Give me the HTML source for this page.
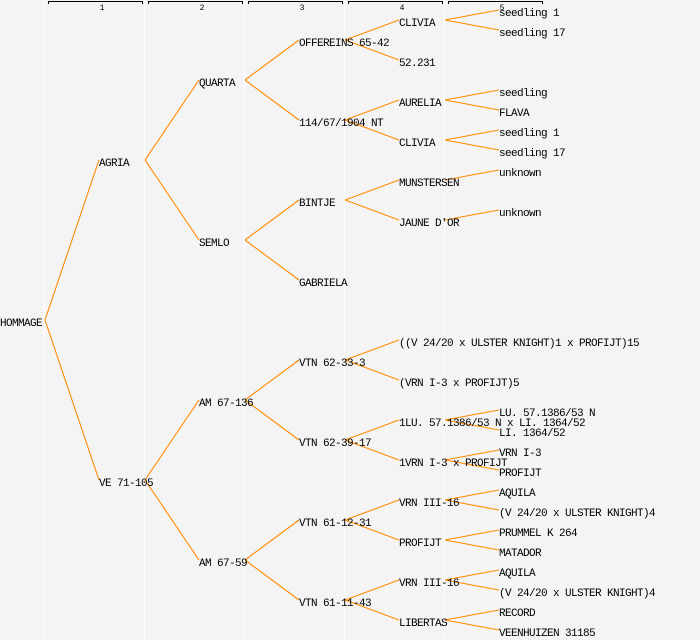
<!DOCTYPE html>
<html><head><meta charset="utf-8"><style>
html,body{margin:0;padding:0;background:#f4f4f4;}
svg{display:block;}
text{font-family:"Liberation Mono",monospace;font-size:11px;letter-spacing:-0.6px;fill:#000;}
text.h{font-size:8px;letter-spacing:0;}
</style></head><body>
<svg width="700" height="640" viewBox="0 0 700 640" xmlns="http://www.w3.org/2000/svg">
<rect width="700" height="640" fill="#f4f4f4"/>
<g stroke="#fff" stroke-width="1">
<line x1="44.5" y1="0" x2="44.5" y2="640"/><line x1="144.5" y1="0" x2="144.5" y2="640"/><line x1="244.5" y1="0" x2="244.5" y2="640"/><line x1="344.5" y1="0" x2="344.5" y2="640"/><line x1="444.5" y1="0" x2="444.5" y2="640"/>
</g>
<g stroke="#000" fill="none" stroke-width="1">
<path d="M48.5 4V1.5H142.5V4"/><path d="M148.5 4V1.5H242.5V4"/><path d="M248.5 4V1.5H342.5V4"/><path d="M348.5 4V1.5H442.5V4"/><path d="M448.5 4V1.5H542.5V4"/>
</g>
<g>
<text class="h" x="102" y="10" text-anchor="middle">1</text><text class="h" x="202" y="10" text-anchor="middle">2</text><text class="h" x="302" y="10" text-anchor="middle">3</text><text class="h" x="402" y="10" text-anchor="middle">4</text><text class="h" x="502" y="10" text-anchor="middle">5</text>
</g>
<g stroke="#ff8a00" stroke-width="1.1" fill="none">
<path d="M45 320L99 160M45 320L99 480"/>
<path d="M145 160L199 80M145 160L199 240M145 480L199 400M145 480L199 560"/>
<path d="M245 80L299 40M245 80L299 120M245 240L299 200M245 240L299 280M245 400L299 360M245 400L299 440M245 560L299 520M245 560L299 600"/>
<path d="M345 40L399 20M345 40L399 60M345 120L399 100M345 120L399 140M345 200L399 180M345 200L399 220M345 360L399 340M345 360L399 380M345 440L399 420M345 440L399 460M345 520L399 500M345 520L399 540M345 600L399 580M345 600L399 620"/>
<path d="M445 20L499 10M445 20L499 30M445 100L499 90M445 100L499 110M445 140L499 130M445 140L499 150M445 180L499 170M445 220L499 210M445 420L499 410M445 420L499 430M445 460L499 450M445 460L499 470M445 500L499 490M445 500L499 510M445 540L499 530M445 540L499 550M445 580L499 570M445 580L499 590M445 620L499 610M445 620L499 630"/>
</g>
<g>
<text x="0" y="326">HOMMAGE</text>
<text x="99" y="166">AGRIA</text>
<text x="99" y="486">VE 71-105</text>
<text x="199" y="86">QUARTA</text>
<text x="199" y="246">SEMLO</text>
<text x="199" y="406">AM 67-136</text>
<text x="199" y="566">AM 67-59</text>
<text x="299" y="46">OFFEREINS 65-42</text>
<text x="299" y="126">114/67/1904 NT</text>
<text x="299" y="206">BINTJE</text>
<text x="299" y="286">GABRIELA</text>
<text x="299" y="366">VTN 62-33-3</text>
<text x="299" y="446">VTN 62-39-17</text>
<text x="299" y="526">VTN 61-12-31</text>
<text x="299" y="606">VTN 61-11-43</text>
<text x="399" y="26">CLIVIA</text>
<text x="399" y="66">52.231</text>
<text x="399" y="106">AURELIA</text>
<text x="399" y="146">CLIVIA</text>
<text x="399" y="186">MUNSTERSEN</text>
<text x="399" y="226">JAUNE D'OR</text>
<text x="399" y="346">((V 24/20 x ULSTER KNIGHT)1 x PROFIJT)15</text>
<text x="399" y="386">(VRN I-3 x PROFIJT)5</text>
<text x="399" y="426">1LU. 57.1386/53 N x LI. 1364/52</text>
<text x="399" y="466">1VRN I-3 x PROFIJT</text>
<text x="399" y="506">VRN III-16</text>
<text x="399" y="546">PROFIJT</text>
<text x="399" y="586">VRN III-16</text>
<text x="399" y="626">LIBERTAS</text>
<text x="499" y="16">seedling 1</text>
<text x="499" y="36">seedling 17</text>
<text x="499" y="96">seedling</text>
<text x="499" y="116">FLAVA</text>
<text x="499" y="136">seedling 1</text>
<text x="499" y="156">seedling 17</text>
<text x="499" y="176">unknown</text>
<text x="499" y="216">unknown</text>
<text x="499" y="416">LU. 57.1386/53 N</text>
<text x="499" y="436">LI. 1364/52</text>
<text x="499" y="456">VRN I-3</text>
<text x="499" y="476">PROFIJT</text>
<text x="499" y="496">AQUILA</text>
<text x="499" y="516">(V 24/20 x ULSTER KNIGHT)4</text>
<text x="499" y="536">PRUMMEL K 264</text>
<text x="499" y="556">MATADOR</text>
<text x="499" y="576">AQUILA</text>
<text x="499" y="596">(V 24/20 x ULSTER KNIGHT)4</text>
<text x="499" y="616">RECORD</text>
<text x="499" y="636">VEENHUIZEN 31185</text>
</g>
</svg>
</body></html>
